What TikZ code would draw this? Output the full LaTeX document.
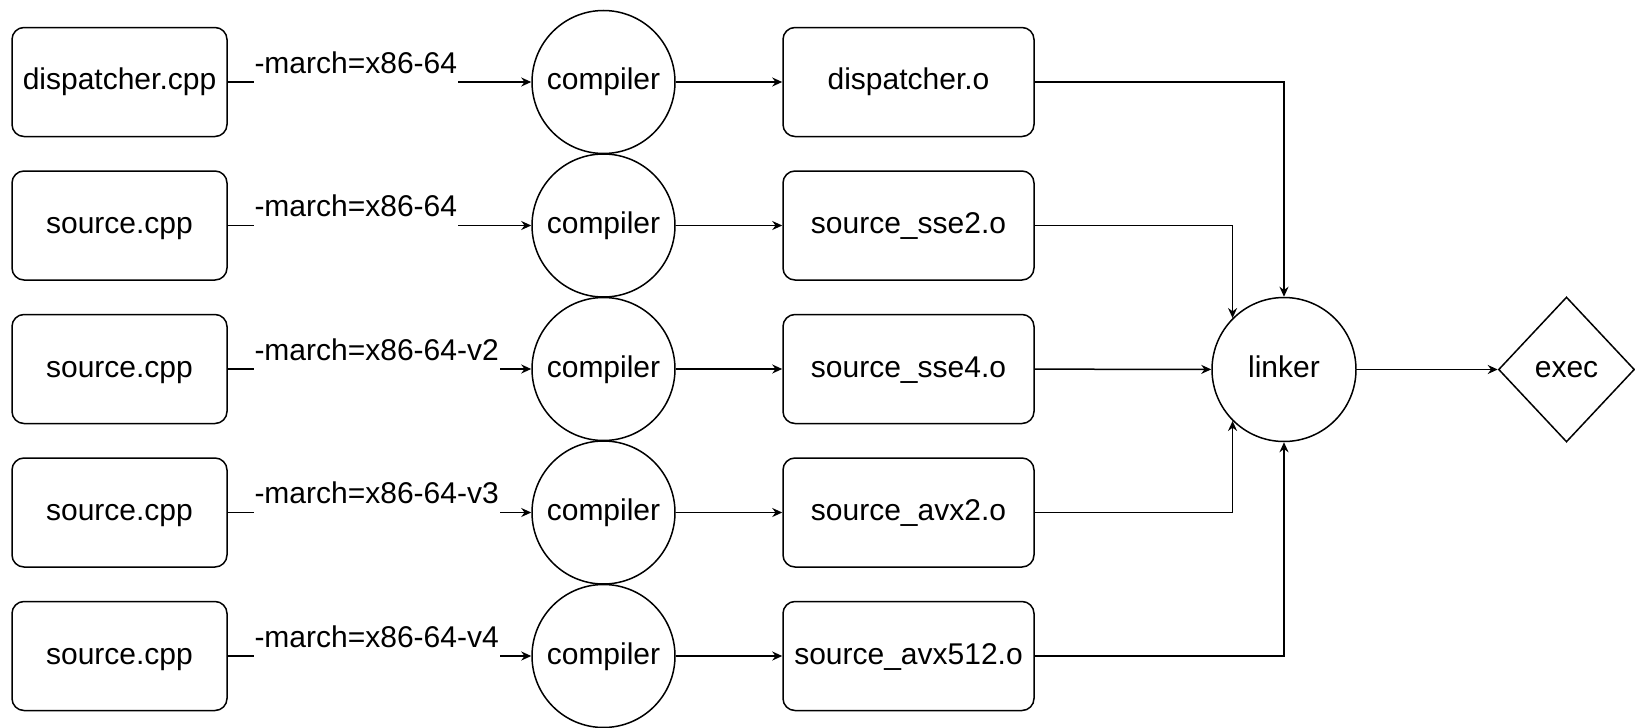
\documentclass[tikz,border=0pt]{standalone}
\usepackage{fontspec}
\setmainfont{Liberation Sans}
\usetikzlibrary{arrows.meta,shapes.geometric}

\begin{document}
\begin{tikzpicture}[x=0.5pt, y=-0.5pt, line width=0.75pt,
  font=\fontsize{15pt}{18pt}\selectfont,
  src/.style={draw, rounded corners=6pt, minimum width=107.5pt, minimum height=54.5pt, inner sep=0pt, text height=11pt, text depth=3pt},
  obj/.style={src, minimum width=125.5pt},
  tool/.style={draw, circle, minimum size=71.5pt, inner sep=0pt, text height=11pt, text depth=3pt},
  flag/.style={anchor=base west, xshift=12.5pt, yshift=4.5pt, fill=white, inner xsep=0.5pt, inner ysep=0pt, text height=11pt, text depth=6pt},
  arr/.style={-{Stealth[length=5pt, width=4.5pt]}}]
  \useasboundingbox (0,0) rectangle (1635,728);
  \node[src] (s1) at (119.5,82) {dispatcher.cpp};
  \node[src] (s2) at (119.5,225.5) {source.cpp};
  \node[src] (s3) at (119.5,369) {source.cpp};
  \node[src] (s4) at (119.5,512.5) {source.cpp};
  \node[src] (s5) at (119.5,656) {source.cpp};
  \node[tool] (c1) at (603.5,82) {compiler};
  \node[tool] (c2) at (603.5,225.5) {compiler};
  \node[tool] (c3) at (603.5,369) {compiler};
  \node[tool] (c4) at (603.5,512.5) {compiler};
  \node[tool] (c5) at (603.5,656) {compiler};
  \node[obj] (o1) at (908.5,82) {dispatcher.o};
  \node[obj] (o2) at (908.5,225.5) {source\_sse2.o};
  \node[obj] (o3) at (908.5,369) {source\_sse4.o};
  \node[obj] (o4) at (908.5,512.5) {source\_avx2.o};
  \node[obj] (o5) at (908.5,656) {source\_avx512.o};
  \node[tool, minimum size=72pt] (lk) at (1284,369.5) {linker};
  \node[draw, diamond, minimum width=68pt, minimum height=72.5pt, inner sep=0pt] (ex) at (1566.5,369.5) {exec};
  \draw[arr] (s1) -- node[flag, at start] {-march=x86-64} (c1);
  \draw[arr] (s2) -- node[flag, at start] {-march=x86-64} (c2);
  \draw[arr] (s3) -- node[flag, at start] {-march=x86-64-v2} (c3);
  \draw[arr] (s4) -- node[flag, at start] {-march=x86-64-v3} (c4);
  \draw[arr] (s5) -- node[flag, at start] {-march=x86-64-v4} (c5);
  \draw[arr] (c1) -- (o1);
  \draw[arr] (c2) -- (o2);
  \draw[arr] (c3) -- (o3);
  \draw[arr] (c4) -- (o4);
  \draw[arr] (c5) -- (o5);
  \draw[arr] (o1) -| (lk.north);
  \draw[arr] (o2) -| (lk.north west);
  \draw[arr] (o3) -- (lk);
  \draw[arr] (o4) -| (lk.south west);
  \draw[arr] (o5) -| (lk.south);
  \draw[arr] (lk) -- (ex);
\end{tikzpicture}
\end{document}
